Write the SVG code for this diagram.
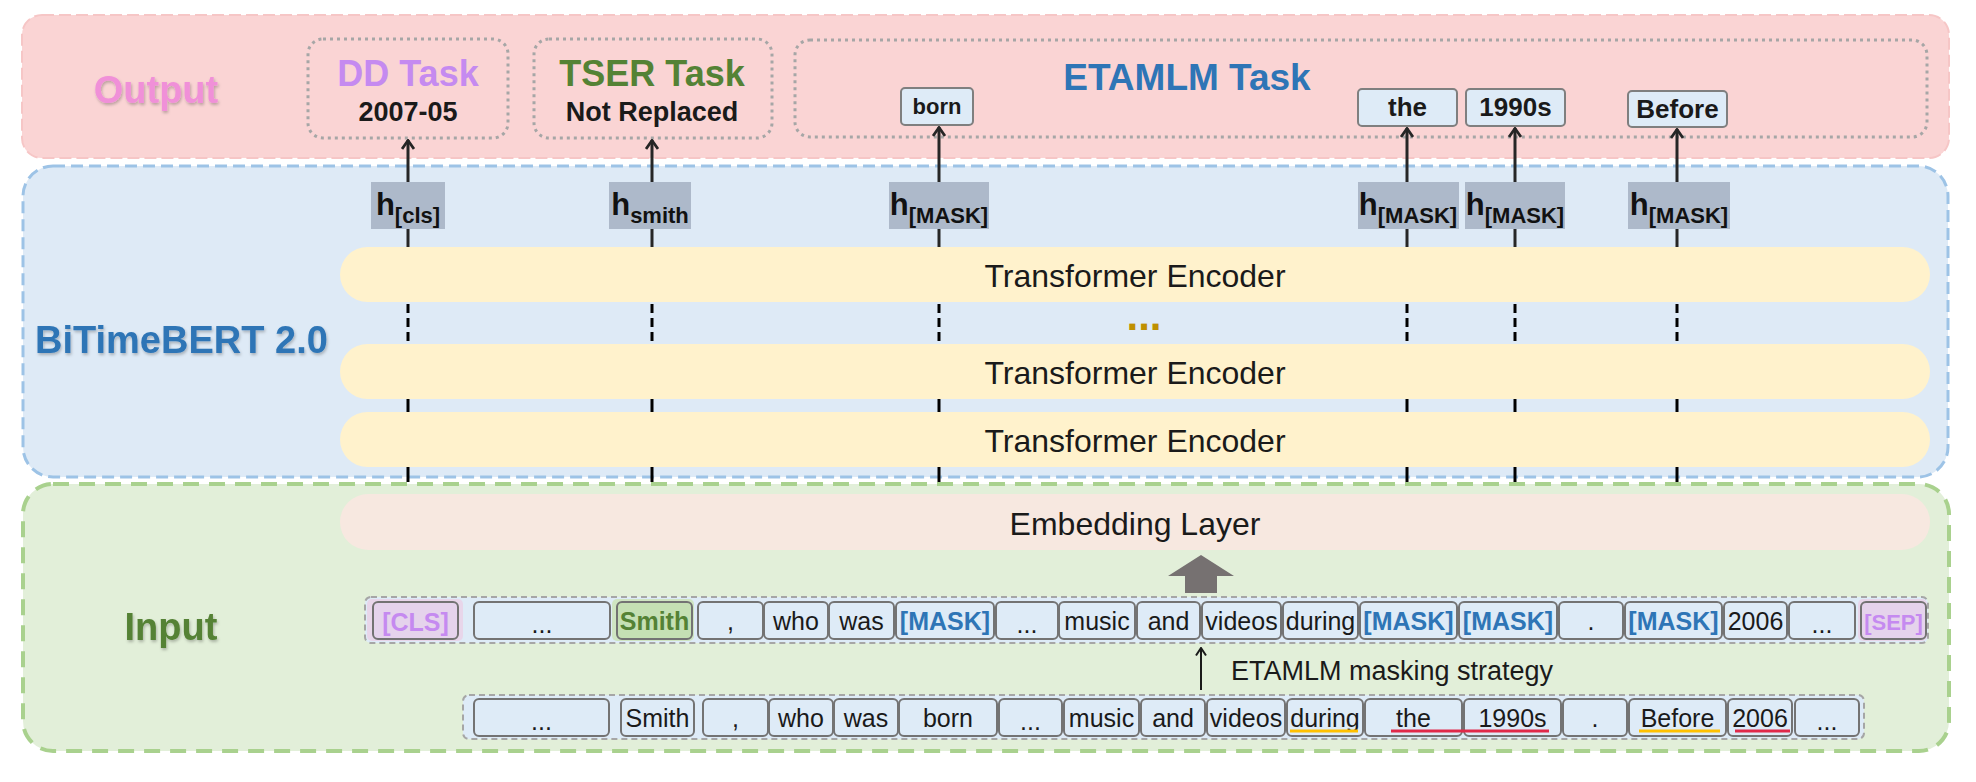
<svg xmlns="http://www.w3.org/2000/svg" width="1976" height="782" viewBox="0 0 1976 782">
<defs>
<style>
text{font-family:"Liberation Sans",Arial,sans-serif;}
.lbl{font-weight:bold;font-size:38px;text-anchor:middle;}
.task{font-weight:bold;font-size:36px;text-anchor:middle;}
.sub{font-weight:bold;font-size:27px;text-anchor:middle;fill:#1a1a1a;}
.tbox{fill:none;stroke:#a6a6a6;stroke-width:3;stroke-dasharray:3 4;}
.obox{fill:#deebf7;stroke:#7f7f7f;stroke-width:2;}
.otxt{font-weight:bold;font-size:26px;text-anchor:middle;fill:#1a1a1a;}
.hbox{fill:#adb9ca;}
.htxt{font-weight:bold;font-size:31px;text-anchor:middle;fill:#111;}
.hs{font-size:22px;}
.bar{fill:#fff2cc;}
.btxt{font-size:32px;text-anchor:middle;fill:#1a1a1a;}
.tok{fill:#deebf7;stroke:#737373;stroke-width:2;}
.ttx{font-size:25px;text-anchor:middle;fill:#1a1a1a;}
.mask{font-weight:bold;fill:#2e75b6;}
.spec{font-weight:bold;fill:#c58af0;}
.row{fill:#deebf7;stroke:#a6a6a6;stroke-width:2;stroke-dasharray:6 4;}
.ln{stroke:#262626;stroke-width:3;fill:none;}
.dl{stroke:#000;stroke-width:3;stroke-dasharray:9 5;fill:none;}
</style>
<marker id="ah" viewBox="0 0 12 14" refX="11" refY="7" markerWidth="12" markerHeight="14" markerUnits="userSpaceOnUse" orient="auto">
<path d="M2,1 L10.5,7 L2,13" fill="none" stroke="#262626" stroke-width="2.8"/>
</marker>
<marker id="ah2" viewBox="0 0 10 12" refX="9" refY="6" markerWidth="10" markerHeight="12" markerUnits="userSpaceOnUse" orient="auto">
<path d="M1.5,1 L9,6 L1.5,11" fill="none" stroke="#1a1a1a" stroke-width="2"/>
</marker>
<filter id="sh" x="-10%" y="-20%" width="120%" height="150%">
<feDropShadow dx="1" dy="2" stdDeviation="1.5" flood-color="#000" flood-opacity="0.25"/>
</filter>
</defs>

<g id="output-panel">
<rect x="22" y="15" width="1927" height="143" rx="20" fill="#fad4d4" stroke="#f6c6c6" stroke-width="2" stroke-dasharray="12 5"/>
<text class="lbl" x="156" y="103" style="fill:#f090d8" filter="url(#sh)">Output</text>
</g>

<g id="bitimebert-panel">
<rect x="23" y="166" width="1925" height="311" rx="30" fill="#deeaf6" stroke="#9dc3e6" stroke-width="3" stroke-dasharray="12 6"/>
<text x="35" y="353" style="font-weight:bold;font-size:38px;fill:#2e75b6" filter="url(#sh)">BiTimeBERT 2.0</text>
</g>

<g id="input-panel">
<rect x="23" y="484" width="1926" height="267" rx="30" fill="#e2efd9" stroke="#a9d18e" stroke-width="4" stroke-dasharray="16 10"/>
<text class="lbl" x="171" y="640" style="fill:#548235" filter="url(#sh)">Input</text>
</g>

<g id="dd-task">
<rect class="tbox" x="308" y="39" width="200" height="99" rx="15"/>
<text class="task" x="408" y="86" style="fill:#c58af0">DD Task</text>
<text class="sub" x="408" y="121">2007-05</text>
</g>
<g id="tser-task">
<rect class="tbox" x="534" y="39" width="238" height="99" rx="15"/>
<text class="task" x="652" y="86" style="fill:#548235">TSER Task</text>
<text class="sub" x="652" y="121">Not Replaced</text>
</g>
<g id="etamlm-task">
<rect class="tbox" x="795" y="40" width="1132" height="97" rx="15"/>
<text class="task" x="1187" y="90" style="font-size:37px;fill:#2e75b6">ETAMLM Task</text>
</g>
<g id="out-born">
<rect class="obox" x="901" y="88" width="72" height="37" rx="4"/>
<text class="otxt" x="937" y="114" style="font-size:22px">born</text>
</g>
<g id="out-the">
<rect class="obox" x="1358" y="89" width="99" height="37" rx="4"/>
<text class="otxt" x="1407.5" y="116">the</text>
</g>
<g id="out-1990s">
<rect class="obox" x="1466" y="89" width="99" height="37" rx="4"/>
<text class="otxt" x="1515.5" y="116">1990s</text>
</g>
<g id="out-before">
<rect class="obox" x="1628" y="91" width="99" height="36" rx="4"/>
<text class="otxt" x="1677.5" y="118">Before</text>
</g>

<g id="connectors">
<line class="ln" x1="408" y1="182" x2="408" y2="140" marker-end="url(#ah)"/>
<line class="ln" x1="652" y1="182" x2="652" y2="140" marker-end="url(#ah)"/>
<line class="ln" x1="939" y1="182" x2="939" y2="127" marker-end="url(#ah)"/>
<line class="ln" x1="1407" y1="182" x2="1407" y2="128" marker-end="url(#ah)"/>
<line class="ln" x1="1515" y1="182" x2="1515" y2="128" marker-end="url(#ah)"/>
<line class="ln" x1="1677" y1="182" x2="1677" y2="129" marker-end="url(#ah)"/>
<g>
<line class="ln" x1="408" y1="229" x2="408" y2="302"/>
<line class="ln" x1="652" y1="229" x2="652" y2="302"/>
<line class="ln" x1="939" y1="229" x2="939" y2="302"/>
<line class="ln" x1="1407" y1="229" x2="1407" y2="302"/>
<line class="ln" x1="1515" y1="229" x2="1515" y2="302"/>
<line class="ln" x1="1677" y1="229" x2="1677" y2="302"/>
<line class="dl" x1="408" y1="304" x2="408" y2="344"/>
<line class="dl" x1="652" y1="304" x2="652" y2="344"/>
<line class="dl" x1="939" y1="304" x2="939" y2="344"/>
<line class="dl" x1="1407" y1="304" x2="1407" y2="344"/>
<line class="dl" x1="1515" y1="304" x2="1515" y2="344"/>
<line class="dl" x1="1677" y1="304" x2="1677" y2="344"/>
<line class="ln" x1="408" y1="344" x2="408" y2="482" style="stroke:#000"/>
<line class="ln" x1="652" y1="344" x2="652" y2="482" style="stroke:#000"/>
<line class="ln" x1="939" y1="344" x2="939" y2="482" style="stroke:#000"/>
<line class="ln" x1="1407" y1="344" x2="1407" y2="482" style="stroke:#000"/>
<line class="ln" x1="1515" y1="344" x2="1515" y2="482" style="stroke:#000"/>
<line class="ln" x1="1677" y1="344" x2="1677" y2="482" style="stroke:#000"/>
</g>
<polygon points="1168,576 1201,555 1234,576 1217,576 1217,593 1185,593 1185,576" fill="#767171"/>
<line x1="1201" y1="690" x2="1201" y2="648" stroke="#1a1a1a" stroke-width="2" marker-end="url(#ah2)"/>
<text x="1231" y="680" style="font-size:27px;fill:#1a1a1a">ETAMLM masking strategy</text>
</g>

<g id="h-cls">
<rect class="hbox" x="371" y="182" width="74" height="47"/>
<text class="htxt" x="408" y="215">h<tspan class="hs" dy="8">[cls]</tspan></text>
</g>
<g id="h-smith">
<rect class="hbox" x="609" y="182" width="82" height="47"/>
<text class="htxt" x="650" y="215">h<tspan class="hs" dy="8">smith</tspan></text>
</g>
<g id="h-mask1">
<rect class="hbox" x="889" y="182" width="100" height="47"/>
<text class="htxt" x="939" y="215">h<tspan class="hs" dy="8">[MASK]</tspan></text>
</g>
<g id="h-mask2">
<rect class="hbox" x="1358" y="182" width="101" height="47"/>
<text class="htxt" x="1408" y="215">h<tspan class="hs" dy="8">[MASK]</tspan></text>
</g>
<g id="h-mask3">
<rect class="hbox" x="1465" y="182" width="100" height="47"/>
<text class="htxt" x="1515" y="215">h<tspan class="hs" dy="8">[MASK]</tspan></text>
</g>
<g id="h-mask4">
<rect class="hbox" x="1628" y="182" width="102" height="47"/>
<text class="htxt" x="1679" y="215">h<tspan class="hs" dy="8">[MASK]</tspan></text>
</g>

<g id="encoder-1">
<rect class="bar" x="340" y="247" width="1590" height="55" rx="27.5"/>
<text class="btxt" x="1135" y="287">Transformer Encoder</text>
</g>
<g id="ellipsis">
<text x="1144" y="330" style="font-size:42px;font-weight:bold;fill:#bf9000" text-anchor="middle">...</text>
</g>
<g id="encoder-2">
<rect class="bar" x="340" y="344" width="1590" height="55" rx="27.5"/>
<text class="btxt" x="1135" y="384">Transformer Encoder</text>
</g>
<g id="encoder-3">
<rect class="bar" x="340" y="412" width="1590" height="55" rx="27.5"/>
<text class="btxt" x="1135" y="452">Transformer Encoder</text>
</g>
<g id="embedding">
<rect x="340" y="494" width="1590" height="56" rx="28" fill="#f7e8e0"/>
<text class="btxt" x="1135" y="535">Embedding Layer</text>
</g>

<g id="masked-row">
<rect class="row" x="365" y="597" width="1563" height="46" rx="6"/>
<rect x="367" y="599" width="96" height="42" rx="5" fill="#e8d6ea"/>
<rect x="612" y="599" width="82" height="42" rx="5" fill="#cfe5c2"/>
<rect x="1858" y="599" width="69" height="42" rx="5" fill="#e8d6ea"/>
<rect class="tok" x="373" y="602" width="85" height="37" rx="5" style="fill:#e5d3ec"/>
<text class="ttx spec" x="415.5" y="631">[CLS]</text>
<rect class="tok" x="474" y="602" width="136" height="37" rx="5"/>
<text class="ttx" x="542" y="633">...</text>
<rect class="tok" x="617" y="602" width="75" height="37" rx="5" style="fill:#c5e0b4"/>
<text class="ttx" x="654.5" y="630" style="font-weight:bold;fill:#548235">Smith</text>
<rect class="tok" x="698" y="602" width="65" height="37" rx="5"/>
<text class="ttx" x="730.5" y="630">,</text>
<rect class="tok" x="764" y="602" width="64" height="37" rx="5"/>
<text class="ttx" x="796" y="630">who</text>
<rect class="tok" x="829" y="602" width="65" height="37" rx="5"/>
<text class="ttx" x="861.5" y="630">was</text>
<rect class="tok" x="896" y="602" width="98" height="37" rx="5"/>
<text class="ttx mask" x="945" y="630">[MASK]</text>
<rect class="tok" x="996" y="602" width="62" height="37" rx="5"/>
<text class="ttx" x="1027" y="633">...</text>
<rect class="tok" x="1059" y="602" width="76" height="37" rx="5"/>
<text class="ttx" x="1097" y="630">music</text>
<rect class="tok" x="1137" y="602" width="63" height="37" rx="5"/>
<text class="ttx" x="1168.5" y="630">and</text>
<rect class="tok" x="1202" y="602" width="79" height="37" rx="5"/>
<text class="ttx" x="1241.5" y="630">videos</text>
<rect class="tok" x="1283" y="602" width="75" height="37" rx="5"/>
<text class="ttx" x="1320.5" y="630">during</text>
<rect class="tok" x="1360" y="602" width="97" height="37" rx="5"/>
<text class="ttx mask" x="1408.5" y="630">[MASK]</text>
<rect class="tok" x="1459" y="602" width="98" height="37" rx="5"/>
<text class="ttx mask" x="1508" y="630">[MASK]</text>
<rect class="tok" x="1559" y="602" width="64" height="37" rx="5"/>
<text class="ttx" x="1591" y="630">.</text>
<rect class="tok" x="1625" y="602" width="97" height="37" rx="5"/>
<text class="ttx mask" x="1673.5" y="630">[MASK]</text>
<rect class="tok" x="1724" y="602" width="63" height="37" rx="5"/>
<text class="ttx" x="1755.5" y="630">2006</text>
<rect class="tok" x="1789" y="602" width="66" height="37" rx="5"/>
<text class="ttx" x="1822" y="633">...</text>
<rect class="tok" x="1861" y="602" width="65" height="37" rx="5" style="fill:#e5d3ec"/>
<text class="ttx spec" x="1893.5" y="630" style="font-size:22px">[SEP]</text>
</g>

<g id="original-row">
<rect class="row" x="463" y="695" width="1401" height="44" rx="6"/>
<rect class="tok" x="474" y="699" width="135" height="37" rx="5"/>
<text class="ttx" x="541.5" y="730">...</text>
<rect class="tok" x="621" y="699" width="73" height="37" rx="5"/>
<text class="ttx" x="657.5" y="727">Smith</text>
<rect class="tok" x="703" y="699" width="65" height="37" rx="5"/>
<text class="ttx" x="735.5" y="727">,</text>
<rect class="tok" x="769" y="699" width="64" height="37" rx="5"/>
<text class="ttx" x="801" y="727">who</text>
<rect class="tok" x="834" y="699" width="64" height="37" rx="5"/>
<text class="ttx" x="866" y="727">was</text>
<rect class="tok" x="899" y="699" width="98" height="37" rx="5"/>
<text class="ttx" x="948" y="727">born</text>
<rect class="tok" x="999" y="699" width="63" height="37" rx="5"/>
<text class="ttx" x="1030.5" y="730">...</text>
<rect class="tok" x="1064" y="699" width="75" height="37" rx="5"/>
<text class="ttx" x="1101.5" y="727">music</text>
<rect class="tok" x="1141" y="699" width="64" height="37" rx="5"/>
<text class="ttx" x="1173" y="727">and</text>
<rect class="tok" x="1207" y="699" width="78" height="37" rx="5"/>
<text class="ttx" x="1246" y="727">videos</text>
<rect class="tok" x="1287" y="699" width="76" height="37" rx="5"/>
<text class="ttx" x="1325" y="727">during</text>
<rect class="tok" x="1365" y="699" width="97" height="37" rx="5"/>
<text class="ttx" x="1413.5" y="727">the</text>
<rect class="tok" x="1464" y="699" width="97" height="37" rx="5"/>
<text class="ttx" x="1512.5" y="727">1990s</text>
<rect class="tok" x="1563" y="699" width="64" height="37" rx="5"/>
<text class="ttx" x="1595" y="727">.</text>
<rect class="tok" x="1629" y="699" width="97" height="37" rx="5"/>
<text class="ttx" x="1677.5" y="727">Before</text>
<rect class="tok" x="1728" y="699" width="64" height="37" rx="5"/>
<text class="ttx" x="1760" y="727">2006</text>
<rect class="tok" x="1795" y="699" width="64" height="37" rx="5"/>
<text class="ttx" x="1827" y="730">...</text>
<line x1="1290" y1="731" x2="1358" y2="731" stroke="#ffc000" stroke-width="3"/>
<line x1="1639" y1="731" x2="1720" y2="731" stroke="#ffc000" stroke-width="3"/>
<line x1="1391" y1="731" x2="1549" y2="731" stroke="#e0294a" stroke-width="3"/>
<line x1="1735" y1="731" x2="1790" y2="731" stroke="#e0294a" stroke-width="3"/>
</g>
</svg>
